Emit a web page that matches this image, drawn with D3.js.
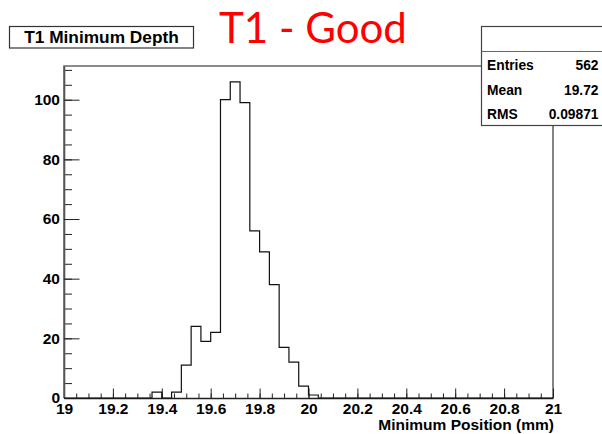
<!DOCTYPE html>
<html>
<head>
<meta charset="utf-8">
<script src="https://cdn.jsdelivr.net/npm/d3@7"></script>
<style>
  body { margin: 0; background: #fff; }
  svg { display: block; }
  .root text { font-family: "Liberation Sans", Arial, sans-serif; font-weight: bold; fill: #000; }
</style>
</head>
<body>
<svg width="602" height="434"></svg>
<script>
// histogram bins (lower edges) and their counts
const binLow = [19.36, 19.40, 19.44, 19.48, 19.52, 19.56, 19.60, 19.64, 19.68,
                19.72, 19.76, 19.80, 19.84, 19.88, 19.92, 19.96, 20.00];
const counts = [2, 0, 2, 11, 24, 19, 22, 100, 106, 99, 56, 49, 38, 17, 12, 4, 1];
const binWidth = 0.04;
const xRange = [19, 21];

const statNames = ['Entries', 'Mean', 'RMS'];
const statValues = ['562', '19.72', '0.09871'];

const histTitle = 'T1 Minimum Depth';
const xTitle = 'Minimum Position (mm)';
const bigTitle = 'T1 - Good';

const svg = d3.select('svg').attr('class', 'root');
const frame = { left: 64, right: 553, top: 66, bottom: 398 };

const x = d3.scaleLinear().domain(xRange).range([frame.left, frame.right]);
const y = d3.scaleLinear()
    .domain([0, d3.max(counts) * 1.05])
    .range([frame.bottom, frame.top]);

// frame (top and left edges look greyish)
svg.append('path')
    .attr('d', `M${frame.left},${frame.bottom}V${frame.top}H${frame.right}V${frame.bottom}`)
    .attr('fill', 'none')
    .attr('stroke', '#666')
    .attr('stroke-width', 1.6);

// x axis: minor ticks then majors with labels
const fmt = d => String(+d.toFixed(1));
svg.append('g')
    .attr('transform', `translate(0,${frame.bottom})`)
    .call(d3.axisBottom(x).tickValues(x.ticks(40)).tickSize(-4.5).tickSizeOuter(0).tickFormat(''))
    .call(g => g.select('.domain').remove());
svg.append('g')
    .attr('class', 'xaxis')
    .attr('transform', `translate(0,${frame.bottom})`)
    .call(d3.axisBottom(x).ticks(10).tickSize(-9.5).tickSizeOuter(0).tickPadding(5).tickFormat(fmt))
    .call(g => g.selectAll('text').attr('font-size', 15.5).attr('font-family', null));

// y axis
svg.append('g')
    .attr('transform', `translate(${frame.left},0)`)
    .call(d3.axisLeft(y).tickValues(y.ticks(20)).tickSize(-8).tickSizeOuter(0).tickFormat(''))
    .call(g => g.select('.domain').remove());
svg.append('g')
    .attr('class', 'yaxis')
    .attr('transform', `translate(${frame.left},0)`)
    .call(d3.axisLeft(y).ticks(6).tickSize(-15.5).tickSizeOuter(0).tickPadding(4))
    .call(g => g.selectAll('text').attr('font-size', 15.5).attr('font-family', null))
    .call(g => g.select('.domain').attr('stroke', '#555').attr('stroke-width', 1.6));

svg.selectAll('.tick line').attr('stroke', '#222');
svg.select('.xaxis .domain').attr('stroke', '#222').attr('stroke-width', 1.3);

// histogram outline
const pts = [{ x: xRange[0], c: 0 }]
    .concat(binLow.map((b, i) => ({ x: b, c: counts[i] })))
    .concat([{ x: binLow[binLow.length - 1] + binWidth, c: 0 }, { x: xRange[1], c: 0 }]);
svg.append('path')
    .datum(pts)
    .attr('fill', 'none')
    .attr('stroke', '#111')
    .attr('stroke-width', 1.2)
    .attr('d', d3.line().x(d => x(d.x)).y(d => y(d.c)).curve(d3.curveStepAfter));

// axis title
svg.append('text')
    .attr('x', frame.right + 1)
    .attr('y', 430)
    .attr('text-anchor', 'end')
    .attr('font-size', 15.5)
    .text(xTitle);

// histogram title box
const tb = svg.append('g');
tb.append('rect')
    .attr('x', 9.5).attr('y', 26.5).attr('width', 184).attr('height', 21.5)
    .attr('fill', '#fff').attr('stroke', '#333').attr('stroke-width', 1.2);
tb.append('text')
    .attr('x', 101.5).attr('y', 43)
    .attr('text-anchor', 'middle')
    .attr('font-size', 17.3)
    .text(histTitle);

// stats box
const sb = svg.append('g');
sb.append('rect')
    .attr('x', 481.5).attr('y', 26.5).attr('width', 130).attr('height', 99)
    .attr('fill', '#fff').attr('stroke', '#444').attr('stroke-width', 1.2);
sb.append('line')
    .attr('x1', 481.5).attr('x2', 602).attr('y1', 51.5).attr('y2', 51.5)
    .attr('stroke', '#666').attr('stroke-width', 1.2);
const rowY = [69.5, 95, 119];
sb.selectAll('.sname').data(statNames).join('text')
    .attr('x', 487).attr('y', (d, i) => rowY[i])
    .attr('font-size', 13.8)
    .text(d => d);
sb.selectAll('.sval').data(statValues).join('text')
    .attr('x', 598.5).attr('y', (d, i) => rowY[i])
    .attr('text-anchor', 'end')
    .attr('font-size', 13.8)
    .text(d => d);

// big red label
svg.append('text')
    .attr('x', 219).attr('y', 43)
    .attr('font-size', 42)
    .style('font-family', 'Lato, "Open Sans", sans-serif')
    .style('font-weight', 'normal')
    .style('fill', '#ff0000')
    .text(bigTitle);
</script>
</body>
</html>
